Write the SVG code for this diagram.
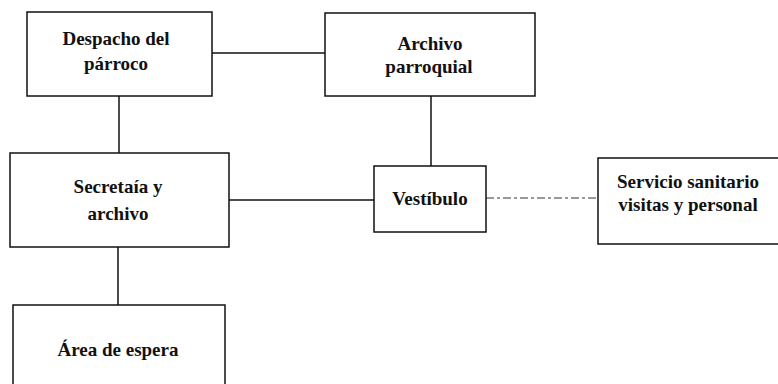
<svg xmlns="http://www.w3.org/2000/svg" width="778" height="384" viewBox="0 0 778 384">
<style>
.box{fill:#fff;stroke:#111;stroke-width:1.5}
.t{font-family:"Liberation Serif","Times New Roman",serif;font-weight:bold;font-size:19px;fill:#111;text-anchor:middle}
.c{stroke:#111;stroke-width:1.5;fill:none}
.d{stroke:#333;stroke-width:1;stroke-dasharray:8 3 3 3;fill:none}
</style>
<rect width="778" height="384" fill="#fff"/>
<g id="connectors">
<line class="c" x1="212" y1="53" x2="325" y2="53"/>
<line class="c" x1="119" y1="96" x2="119" y2="153"/>
<line class="c" x1="431" y1="96" x2="431" y2="166"/>
<line class="c" x1="229" y1="200" x2="374" y2="200"/>
<line class="c" x1="118" y1="247" x2="118" y2="305"/>
<line class="d" x1="486" y1="198" x2="598" y2="198"/>
</g>
<g id="despacho">
<rect class="box" x="27" y="12" width="185" height="84"/>
<text class="t" x="116" y="45">Despacho del</text>
<text class="t" x="116" y="70">párroco</text>
</g>
<g id="archivo-parroquial">
<rect class="box" x="325" y="13" width="210" height="83"/>
<text class="t" x="430" y="50">Archivo</text>
<text class="t" x="429" y="73">parroquial</text>
</g>
<g id="secretaria">
<rect class="box" x="10" y="153" width="219" height="94"/>
<text class="t" x="118" y="193">Secretaía y</text>
<text class="t" x="118" y="220">archivo</text>
</g>
<g id="vestibulo">
<rect class="box" x="374" y="166" width="112" height="66"/>
<text class="t" x="430" y="205">Vestíbulo</text>
</g>
<g id="servicio">
<rect class="box" x="598" y="158" width="184" height="86"/>
<text class="t" x="688" y="188">Servicio sanitario</text>
<text class="t" x="688" y="211">visitas y personal</text>
</g>
<g id="area-espera">
<rect class="box" x="13" y="305" width="212" height="90"/>
<text class="t" x="118" y="356">Área de espera</text>
</g>
</svg>
